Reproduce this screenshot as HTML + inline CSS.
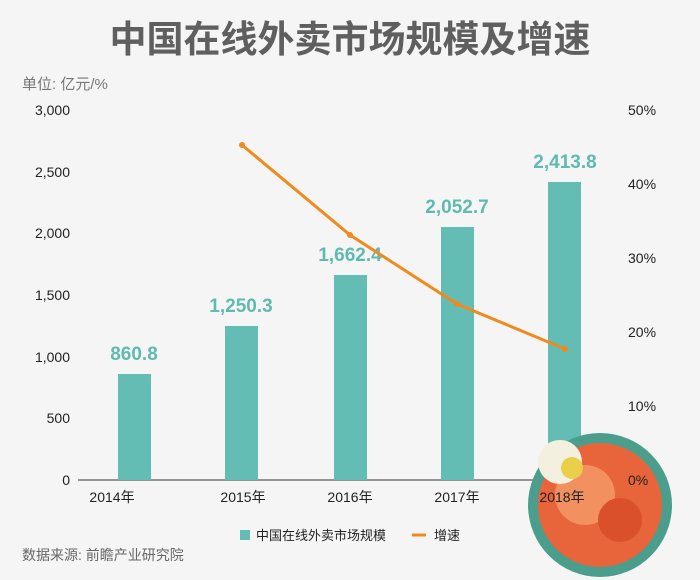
<!DOCTYPE html>
<html><head><meta charset="utf-8"><style>
body{margin:0;background:#f6f5f5;}
svg{display:block;font-family:"Liberation Sans","Noto Sans CJK SC",sans-serif;}
</style></head><body>
<svg width="700" height="580" viewBox="0 0 700 580">
<rect width="700" height="580" fill="#f6f5f5"/>
<text x="350" y="52" text-anchor="middle" font-size="37" fill="#5f5f5f" font-weight="bold">中国在线外卖市场规模及增速</text>
<text x="22" y="89" font-size="15" fill="#777">单位: 亿元/%</text>
<g font-size="14" fill="#222" text-anchor="end">
<text x="70" y="115">3,000</text><text x="70" y="177">2,500</text><text x="70" y="238">2,000</text>
<text x="70" y="300">1,500</text><text x="70" y="362">1,000</text><text x="70" y="423">500</text><text x="70" y="485">0</text>
</g>
<g font-size="14" fill="#222" text-anchor="start">
<text x="628" y="115">50%</text><text x="628" y="189">40%</text><text x="628" y="263">30%</text>
<text x="628" y="337">20%</text><text x="628" y="411">10%</text>
</g>
<line x1="78" y1="480" x2="620" y2="480" stroke="#333" stroke-width="1"/>
<g fill="#64bdb4">
<rect x="118" y="374" width="33" height="106"/>
<rect x="225" y="326" width="33" height="154"/>
<rect x="334" y="275" width="33" height="205"/>
<rect x="441" y="227" width="33" height="253"/>
<rect x="548" y="182" width="33" height="298"/>
</g>
<g font-size="19" font-weight="bold" fill="#5fbab0" text-anchor="middle">
<text x="134" y="360">860.8</text><text x="241" y="312">1,250.3</text><text x="350" y="261">1,662.4</text>
<text x="457" y="213">2,052.7</text><text x="565" y="168">2,413.8</text>
</g>
<polyline points="242,145 350,235 457,304 565,349" fill="none" stroke="#f08a1c" stroke-width="3"/>
<g fill="#f08a1c"><circle cx="242" cy="145" r="3"/><circle cx="350" cy="235" r="3"/><circle cx="457" cy="304" r="3"/><circle cx="565" cy="349" r="3"/></g>
<g font-size="14" fill="#222" text-anchor="middle">
<text x="112" y="502">2014年</text><text x="243" y="502">2015年</text><text x="350" y="502">2016年</text>
<text x="457" y="502">2017年</text>
</g>
<circle cx="600" cy="505" r="72" fill="#4c9e8c"/>
<circle cx="600" cy="505" r="62" fill="#e8643a"/>
<circle cx="585" cy="495" r="30" fill="#f29060"/>
<circle cx="620" cy="520" r="22" fill="#d9502a"/>
<circle cx="560" cy="462" r="22" fill="#f4f0e0"/>
<circle cx="572" cy="468" r="11" fill="#e9cf4a"/>
<text x="562" y="502" font-size="14" fill="#222" text-anchor="middle">2018年</text>
<text x="628" y="485" font-size="14" fill="#222">0%</text>
<rect x="240" y="530" width="10" height="10" fill="#64bdb4"/>
<text x="256" y="540" font-size="13" fill="#222">中国在线外卖市场规模</text>
<line x1="412" y1="535" x2="426" y2="535" stroke="#f08a1c" stroke-width="3"/>
<text x="434" y="540" font-size="13" fill="#222">增速</text>
<text x="22" y="560" font-size="14" fill="#666">数据来源: 前瞻产业研究院</text>
</svg>
</body></html>
